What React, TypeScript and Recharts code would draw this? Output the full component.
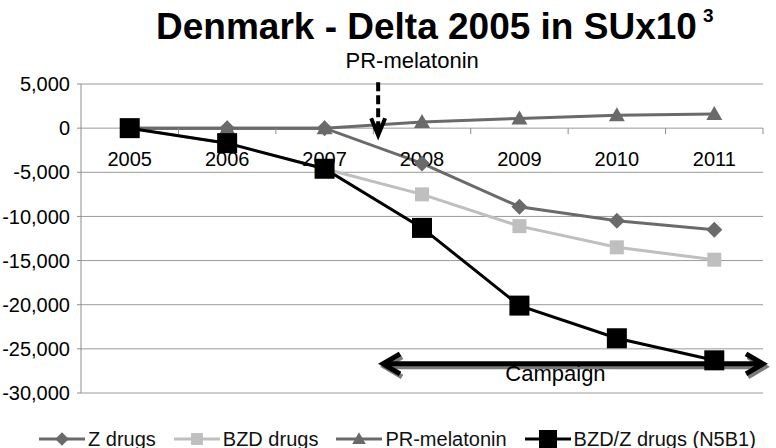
import React from "react";
import {
  ComposedChart,
  Line,
  XAxis,
  YAxis,
  CartesianGrid,
  ReferenceDot,
  Legend,
} from "recharts";

const years = ["2005", "2006", "2007", "2008", "2009", "2010", "2011"];
const zDrugs = [0, 0, 0, -4000, -8900, -10500, -11500];
const bzdDrugs = [0, -1700, -4600, -7500, -11100, -13500, -14900];
const prMelatonin = [0, 0, 0, 700, 1100, 1450, 1600];
const bzdZDrugs = [0, -1700, -4600, -11300, -20100, -23800, -26300];
const yTicks = [5000, 0, -5000, -10000, -15000, -20000, -25000, -30000];

const W = 776;
const H = 448;
const MARGIN = { top: 84, right: 13, bottom: 33, left: 0 };
const Y_AXIS_W = 81;
const BAND = (W - MARGIN.right - MARGIN.left - Y_AXIS_W) / years.length;
const FONT = "'Liberation Sans', Arial, sans-serif";

const data = years.map((year, i) => ({
  year,
  z: zDrugs[i],
  bzd: bzdDrugs[i],
  pr: prMelatonin[i],
  total: bzdZDrugs[i],
}));

const series = [
  { key: "z", name: "Z drugs", color: "#6a6a6a", shape: "diamond" },
  { key: "bzd", name: "BZD drugs", color: "#bfbfbf", shape: "square" },
  { key: "pr", name: "PR-melatonin", color: "#6a6a6a", shape: "triangle" },
  { key: "total", name: "BZD/Z drugs (N5B1)", color: "#000000", shape: "bigSquare" },
];

function marker(shape: string, cx: number, cy: number, fill: string, s = 1) {
  if (shape === "diamond") {
    const r = 8 * s;
    return <path d={`M${cx},${cy - r}L${cx + r},${cy}L${cx},${cy + r}L${cx - r},${cy}Z`} fill={fill} />;
  }
  if (shape === "triangle") {
    const r = 8 * s;
    return <path d={`M${cx},${cy - r}L${cx + r},${cy + r * 0.75}L${cx - r},${cy + r * 0.75}Z`} fill={fill} />;
  }
  const half = (shape === "bigSquare" ? 10 : 7) * s;
  return <rect x={cx - half} y={cy - half} width={half * 2} height={half * 2} fill={fill} />;
}

const makeDot = (shape: string, fill: string) => (p: any) => {
  if (p.cx == null || p.cy == null) return <g key={p.key} />;
  return <g key={p.key}>{marker(shape, p.cx, p.cy, fill)}</g>;
};

const YearMark = (p: any) => {
  const { cx, cy, label } = p;
  const b = cx + BAND / 2;
  return (
    <g>
      <line x1={b} y1={cy} x2={b} y2={cy + 6} stroke="#8c8c8c" strokeWidth={1} />
      <text x={cx} y={cy + 38} textAnchor="middle" fontSize={20} fontFamily={FONT} fill="#000">
        {label}
      </text>
    </g>
  );
};

const PrArrow = (p: any) => {
  const { cx, cy } = p;
  const ax = cx - 0.45 * BAND;
  const tip = cy + 7;
  return (
    <g>
      <text x={ax + 34} y={cy - 60} textAnchor="middle" fontSize={22} fontFamily={FONT} fill="#000">
        PR-melatonin
      </text>
      <line x1={ax} y1={cy - 46} x2={ax} y2={tip - 3} stroke="#000" strokeWidth={4} strokeDasharray="9 4" />
      <polyline
        points={`${ax - 7},${tip - 17} ${ax},${tip} ${ax + 7},${tip - 17}`}
        fill="none"
        stroke="#000"
        strokeWidth={4}
      />
    </g>
  );
};

const CampaignArrow = (p: any) => {
  const { cx, cy } = p;
  const left = cx - 0.4 * BAND;
  const right = cx + 3.5 * BAND;
  const arrow = (dx: number, dy: number, color: string) => (
    <g stroke={color} strokeWidth={5} fill="none">
      <line x1={left + 3 + dx} y1={cy + dy} x2={right - 3 + dx} y2={cy + dy} />
      <polyline points={`${left + 17 + dx},${cy - 10 + dy} ${left + dx},${cy + dy} ${left + 17 + dx},${cy + 10 + dy}`} />
      <polyline points={`${right - 17 + dx},${cy - 10 + dy} ${right + dx},${cy + dy} ${right - 17 + dx},${cy + 10 + dy}`} />
    </g>
  );
  return (
    <g>
      {arrow(2, 3, "#7a7a7a")}
      {arrow(0, 0, "#000")}
      <text x={cx + 1.37 * BAND} y={cy + 17} textAnchor="middle" fontSize={22} fontFamily={FONT} fill="#000">
        Campaign
      </text>
    </g>
  );
};

const LegendContent = () => (
  <div
    style={{
      display: "flex",
      alignItems: "center",
      height: 22,
      paddingLeft: 39,
      fontFamily: FONT,
      fontSize: 20,
      color: "#111",
      whiteSpace: "nowrap",
    }}
  >
    {series.map((s) => (
      <div key={s.key} style={{ display: "flex", alignItems: "center", marginRight: 18 }}>
        <svg width={46} height={22} style={{ marginRight: 3 }}>
          <line x1={0} y1={11} x2={46} y2={11} stroke={s.color} strokeWidth={3} />
          {marker(s.shape, 23, 11, s.color, s.shape === "bigSquare" ? 0.9 : 0.85)}
        </svg>
        <span>{s.name}</span>
      </div>
    ))}
  </div>
);

export default function App() {
  return (
    <div style={{ position: "absolute", left: 0, top: 0, width: W, height: H, background: "#fff" }}>
      <svg width={W} height={90} style={{ position: "absolute", left: 0, top: 0 }}>
        <text x={156} y={38.5} fontSize={37} fontWeight="bold" fontFamily={FONT} fill="#000">
          Denmark - Delta 2005 in SUx10
        </text>
        <text x={703} y={22} fontSize={19} fontWeight="bold" fontFamily={FONT} fill="#000">
          3
        </text>
      </svg>
      <ComposedChart width={W} height={H} data={data} margin={MARGIN} style={{ position: "absolute", left: 0, top: 0 }}>
        <CartesianGrid horizontal vertical={false} stroke="#9a9a9a" />
        <XAxis dataKey="year" hide padding={{ left: BAND / 2, right: BAND / 2 }} />
        <YAxis
          width={Y_AXIS_W}
          domain={[-30000, 5000]}
          ticks={yTicks}
          interval={0}
          tickFormatter={(v: number) => v.toLocaleString("en-US")}
          tick={{ fontSize: 20, fill: "#000", fontFamily: FONT }}
          axisLine={{ stroke: "#8c8c8c" }}
          tickLine={{ stroke: "#8c8c8c" }}
          tickSize={4}
          tickMargin={7}
        />
        {years.map((y) => (
          <ReferenceDot
            key={y}
            x={y}
            y={0}
            r={0}
            ifOverflow="visible"
            isFront={false}
            shape={(p: any) => <YearMark {...p} label={y} />}
          />
        ))}
        {series.map((s) => (
          <Line
            key={s.key}
            dataKey={s.key}
            name={s.name}
            stroke={s.color}
            strokeWidth={3}
            dot={makeDot(s.shape, s.color)}
            activeDot={false}
            isAnimationActive={false}
          />
        ))}
        <ReferenceDot x="2008" y={0} r={0} ifOverflow="visible" isFront shape={(p: any) => <PrArrow {...p} />} />
        <ReferenceDot x="2008" y={-26700} r={0} ifOverflow="visible" isFront shape={(p: any) => <CampaignArrow {...p} />} />
        <Legend
          verticalAlign="bottom"
          content={() => <LegendContent />}
          wrapperStyle={{ top: 428, left: 0, width: W, height: 22 }}
        />
      </ComposedChart>
    </div>
  );
}
